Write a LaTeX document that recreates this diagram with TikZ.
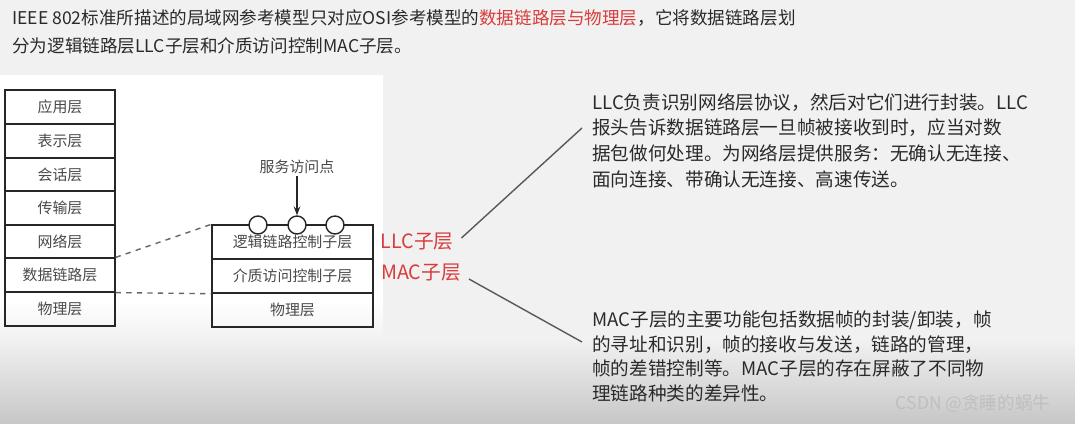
\documentclass[tikz,border=0pt]{standalone}
\usepackage{fontspec}
\setmainfont{Noto Sans CJK SC}
\usetikzlibrary{positioning,arrows.meta}
\definecolor{slidered}{HTML}{D93C3C}
\definecolor{slidetext}{HTML}{2A2A2A}
\definecolor{stacktext}{HTML}{4A4A4A}
\definecolor{slidebg}{HTML}{F1F1F1}

\begin{document}
\begin{tikzpicture}[x=0.02cm, y=-0.02cm,
  layer/.style={draw=black!85, thick, minimum width=2.2cm, minimum height=0.677cm,
                inner sep=0pt, text=stacktext, font=\fontsize{8.5}{10}\selectfont},
  sublayer/.style={draw=black!85, thick, minimum width=3.22cm, minimum height=0.68cm,
                inner sep=0pt, text=stacktext, font=\fontsize{8.5}{10}\selectfont},
  sap/.style={circle, draw=black!85, thick, fill=white, minimum size=0.36cm, inner sep=0pt},
  redlbl/.style={text=slidered, font=\fontsize{11.2}{13}\selectfont, inner sep=1pt},
  note/.style={anchor=north west, align=left, inner sep=0pt, text=slidetext,
               font=\fontsize{10.6}{14.6}\selectfont},
  dashline/.style={dashed, thick, black!60},
  link/.style={thick, black!65},
]

% Background (slide + white picture panel)
\useasboundingbox (0,0) rectangle (1075,423);
\fill[slidebg] (0,0) rectangle (1075,423);
\shade[top color=white, bottom color=slidebg] (0,300) rectangle (383,340);
\fill[white] (0,75) rectangle (383,300);
\shade[top color=slidebg, bottom color=black!22] (0,340) rectangle (1075,423);

% Title
\node[anchor=west, inner sep=0pt, text=slidetext, font=\fontsize{10}{13}\selectfont] (title1) at (12,18)
  {IEEE 802标准所描述的局域网参考模型只对应OSI参考模型的\textcolor{slidered}{数据链路层与物理层}，它将数据链路层划};
\node[anchor=west, inner sep=0pt, text=slidetext, font=\fontsize{10}{13}\selectfont] (title2) at (12,46)
  {分为逻辑链路层LLC子层和介质访问控制MAC子层。};

% OSI stack
\node[layer] (app)   at (60,107)   {应用层};
\node[layer] (pres)  at (60,141)   {表示层};
\node[layer] (sess)  at (60,174.5) {会话层};
\node[layer] (trans) at (60,208)   {传输层};
\node[layer] (net)   at (60,241.5) {网络层};
\node[layer] (dlink) at (60,275)   {数据链路层};
\node[layer] (phys)  at (60,309)   {物理层};

% IEEE 802 stack
\node[sublayer] (llc)   at (292.5,242) {逻辑链路控制子层};
\node[sublayer] (mac)   at (292.5,276) {介质访问控制子层};
\node[sublayer] (phys2) at (292.5,310) {物理层};

% Service access points
\node[sap] (sap1) at (258,225) {};
\node[sap] (sap2) at (297,225) {};
\node[sap] (sap3) at (335,225) {};
\node[text=stacktext, inner sep=1pt, font=\fontsize{8.5}{10}\selectfont] (saplbl) at (297,167) {服务访问点};
\draw[thick, black!85, -{Stealth[length=5pt]}] (saplbl) -- (sap2);

% Dashed mapping
\draw[dashline] (dlink.north east) -- (llc.north west);
\draw[dashline] (dlink.south east) -- (mac.south west);

% Sublayer labels
\node[redlbl] (llclbl) at (417,242) {LLC子层};
\node[redlbl] (maclbl) at (421,273) {MAC子层};

% Notes
\node[note] (llcnote) at (592,93)
  {LLC负责识别网络层协议，然后对它们进行封装。LLC\\
   报头告诉数据链路层一旦帧被接收到时，应当对数\\
   据包做何处理。为网络层提供服务：无确认无连接、\\
   面向连接、带确认无连接、高速传送。};
\node[note, font=\fontsize{10.6}{14.2}\selectfont] (macnote) at (592,310)
  {MAC子层的主要功能包括数据帧的封装/卸装，帧\\
   的寻址和识别，帧的接收与发送，链路的管理，\\
   帧的差错控制等。MAC子层的存在屏蔽了不同物\\
   理链路种类的差异性。};

% Leader lines
\coordinate (llcend) at (582,128);
\coordinate (macend) at (582,342);
\draw[link] ([shift={(6,-4)}]llclbl.east) -- (llcend);
\draw[link] ([shift={(6,6)}]maclbl.east) -- (macend);

% Watermark
\node[text=black!25, inner sep=0pt, font=\fontsize{10}{12}\selectfont] (wmark) at (973,404) {CSDN @贪睡的蜗牛};

\end{tikzpicture}
\end{document}
